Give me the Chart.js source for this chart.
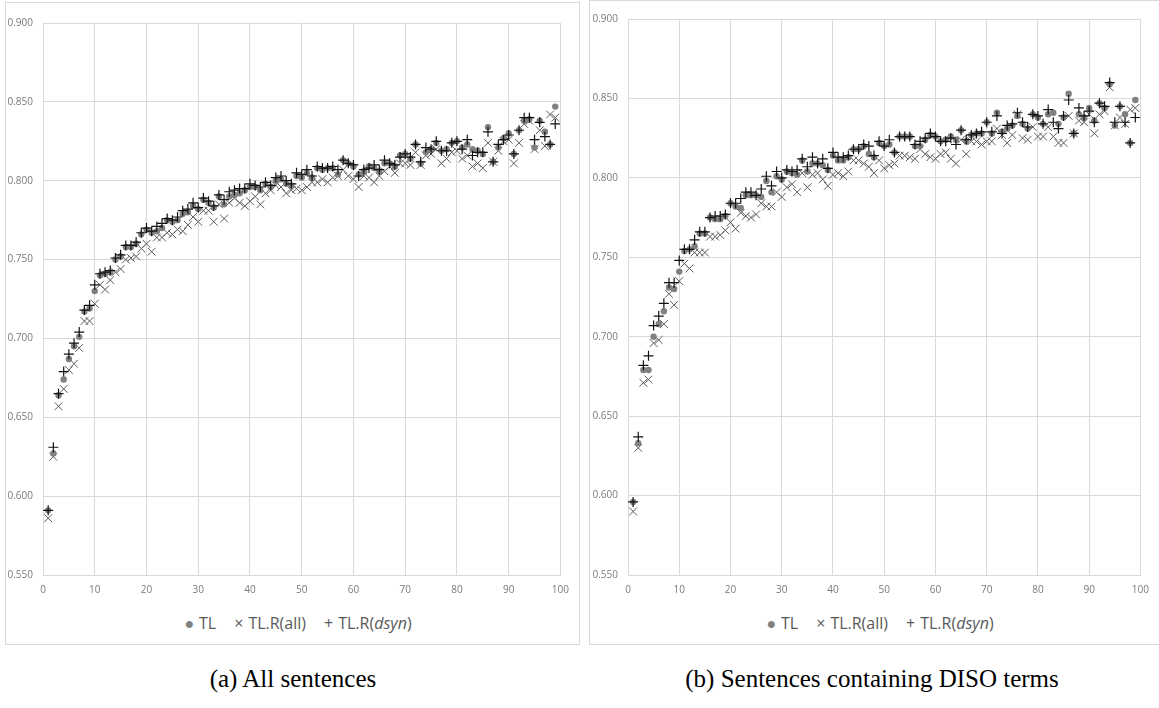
<!DOCTYPE html>
<html>
<head>
<meta charset="utf-8">
<script src="https://cdn.jsdelivr.net/npm/chart.js@4.4.1/dist/chart.umd.min.js"></script>
<style>
  body { margin: 0; background: #fff; width: 1159px; height: 708px; position: relative; overflow: hidden; }
  .frame { position: absolute; border: 1px solid #d9d9d9; box-sizing: border-box; }
  .cv { position: absolute; }
  .legend { position: absolute; font-family: "Open Sans", sans-serif; font-size: 16px; color: #595959;
            display: flex; justify-content: center; align-items: center; white-space: nowrap; }
  .legend span.item { margin: 0 9px; }
  .legend .mk { color: #595959; margin-right: 5px; }
  .caption { position: absolute; font-family: "Liberation Serif", serif; font-size: 25px; color: #000;
             text-align: center; white-space: nowrap; }
</style>
</head>
<body>

<div class="frame" style="left:5px; top:2px; width:575px; height:643px;"></div>
<div class="cv" style="left:6px; top:3px; width:572px; height:600px;"><canvas id="chartA"></canvas></div>
<div class="legend" style="left:6px; top:610px; width:584px; height:26px;">
  <span class="item"><span class="mk" style="color:#808080">&#9679;</span>TL</span>
  <span class="item"><span class="mk">&times;</span>TL.R(all)</span>
  <span class="item"><span class="mk">+</span>TL.R(<i>dsyn</i>)</span>
</div>

<div class="frame" style="left:589px; top:0px; width:572px; height:645px;"></div>
<div class="cv" style="left:590px; top:1px; width:568px; height:602px;"><canvas id="chartB"></canvas></div>
<div class="legend" style="left:590px; top:610px; width:580px; height:26px;">
  <span class="item"><span class="mk" style="color:#808080">&#9679;</span>TL</span>
  <span class="item"><span class="mk">&times;</span>TL.R(all)</span>
  <span class="item"><span class="mk">+</span>TL.R(<i>dsyn</i>)</span>
</div>

<div class="caption" style="left:93px; top:665px; width:400px;">(a) All sentences</div>
<div class="caption" style="left:672px; top:665px; width:400px;">(b) Sentences containing DISO terms</div>

<script>
// Series names
const seriesNames = ['TL', 'TL.R(all)', 'TL.R(dsyn)'];
// y ticks
const yTickLabels = ['0.550', '0.600', '0.650', '0.700', '0.750', '0.800', '0.850', '0.900'];
const xTickLabels = [0, 10, 20, 30, 40, 50, 60, 70, 80, 90, 100];

// (a) All sentences, values for ranks 1..99
const aTL = [0.591,0.627,0.664,0.674,0.687,0.695,0.701,0.717,0.719,0.730,
  0.740,0.741,0.742,0.750,0.752,0.758,0.758,0.760,0.766,0.769,
  0.767,0.768,0.770,0.775,0.774,0.775,0.779,0.780,0.784,0.782,
  0.788,0.786,0.783,0.790,0.785,0.790,0.791,0.792,0.794,0.796,
  0.796,0.794,0.798,0.796,0.800,0.801,0.798,0.797,0.803,0.802,
  0.805,0.802,0.808,0.807,0.808,0.808,0.804,0.813,0.811,0.809,
  0.804,0.806,0.809,0.808,0.806,0.811,0.811,0.809,0.816,0.817,
  0.814,0.823,0.811,0.818,0.820,0.824,0.819,0.820,0.824,0.825,
  0.821,0.823,0.820,0.819,0.817,0.834,0.812,0.821,0.827,0.830,
  0.817,0.832,0.838,0.839,0.821,0.838,0.831,0.823,0.847];
const aAll = [0.586,0.625,0.657,0.668,0.680,0.684,0.694,0.711,0.711,0.722,
  0.734,0.731,0.737,0.742,0.744,0.750,0.751,0.752,0.757,0.760,
  0.755,0.764,0.764,0.767,0.766,0.769,0.768,0.772,0.777,0.774,
  0.781,0.781,0.774,0.785,0.776,0.786,0.789,0.786,0.784,0.787,
  0.790,0.785,0.792,0.794,0.797,0.796,0.792,0.794,0.795,0.794,
  0.796,0.799,0.799,0.801,0.799,0.802,0.803,0.807,0.803,0.801,
  0.796,0.803,0.802,0.799,0.803,0.806,0.809,0.805,0.811,0.811,
  0.810,0.818,0.810,0.816,0.817,0.820,0.811,0.814,0.818,0.819,
  0.814,0.816,0.809,0.811,0.808,0.824,0.812,0.819,0.825,0.826,
  0.811,0.824,0.836,0.838,0.820,0.832,0.822,0.842,0.840];
const aDsyn = [0.591,0.631,0.665,0.679,0.690,0.697,0.704,0.718,0.721,0.734,
  0.741,0.742,0.743,0.751,0.753,0.759,0.759,0.761,0.767,0.770,
  0.768,0.771,0.773,0.776,0.775,0.777,0.781,0.782,0.786,0.783,
  0.789,0.787,0.784,0.791,0.788,0.793,0.794,0.795,0.795,0.798,
  0.797,0.796,0.799,0.797,0.802,0.803,0.800,0.798,0.805,0.804,
  0.807,0.803,0.809,0.808,0.808,0.809,0.807,0.813,0.811,0.810,
  0.803,0.807,0.808,0.810,0.807,0.813,0.811,0.810,0.815,0.817,
  0.815,0.823,0.812,0.821,0.820,0.825,0.819,0.819,0.824,0.825,
  0.820,0.826,0.816,0.818,0.818,0.831,0.812,0.823,0.826,0.829,
  0.817,0.832,0.840,0.840,0.826,0.837,0.828,0.823,0.836];

// (b) Sentences containing DISO terms
const bTL = [0.596,0.633,0.679,0.679,0.700,0.708,0.716,0.731,0.730,0.741,
  0.754,0.755,0.757,0.765,0.765,0.775,0.774,0.774,0.776,0.784,
  0.782,0.781,0.789,0.789,0.789,0.788,0.798,0.791,0.801,0.799,
  0.804,0.803,0.802,0.811,0.804,0.809,0.809,0.808,0.805,0.814,
  0.811,0.811,0.813,0.818,0.818,0.820,0.815,0.813,0.822,0.820,
  0.821,0.816,0.826,0.826,0.826,0.820,0.820,0.824,0.827,0.826,
  0.823,0.824,0.826,0.824,0.830,0.823,0.827,0.828,0.828,0.835,
  0.828,0.841,0.829,0.831,0.833,0.839,0.834,0.831,0.840,0.838,
  0.834,0.840,0.841,0.834,0.838,0.853,0.828,0.840,0.838,0.844,
  0.836,0.847,0.844,0.859,0.833,0.845,0.840,0.822,0.849];
const bAll = [0.590,0.630,0.671,0.673,0.696,0.698,0.708,0.727,0.720,0.735,
  0.746,0.743,0.753,0.753,0.753,0.763,0.763,0.764,0.767,0.772,
  0.768,0.778,0.776,0.775,0.777,0.784,0.782,0.782,0.791,0.788,
  0.794,0.796,0.791,0.803,0.794,0.802,0.803,0.799,0.795,0.802,
  0.803,0.801,0.804,0.811,0.811,0.809,0.807,0.803,0.811,0.806,
  0.808,0.809,0.814,0.814,0.813,0.812,0.818,0.815,0.813,0.812,
  0.815,0.816,0.812,0.809,0.824,0.815,0.823,0.823,0.821,0.823,
  0.823,0.831,0.827,0.822,0.827,0.840,0.825,0.824,0.832,0.826,
  0.826,0.832,0.826,0.822,0.822,0.839,0.828,0.836,0.835,0.840,
  0.828,0.840,0.842,0.857,0.833,0.838,0.834,0.843,0.844];
const bDsyn = [0.596,0.637,0.682,0.688,0.707,0.713,0.721,0.734,0.734,0.748,
  0.755,0.755,0.761,0.766,0.766,0.775,0.776,0.776,0.777,0.784,
  0.784,0.787,0.791,0.791,0.789,0.793,0.801,0.795,0.804,0.800,
  0.805,0.804,0.805,0.812,0.807,0.813,0.809,0.812,0.806,0.816,
  0.813,0.813,0.814,0.818,0.818,0.821,0.820,0.814,0.823,0.820,
  0.824,0.816,0.826,0.826,0.826,0.821,0.823,0.825,0.828,0.826,
  0.823,0.823,0.825,0.821,0.830,0.824,0.827,0.828,0.829,0.835,
  0.829,0.839,0.828,0.833,0.834,0.841,0.835,0.832,0.840,0.839,
  0.834,0.843,0.835,0.831,0.839,0.849,0.828,0.844,0.839,0.842,
  0.835,0.847,0.845,0.860,0.835,0.845,0.835,0.822,0.838];

// rank i+1 on the x axis
function toPoints(values) {
    return values.map((v, i) => ({ x: i + 1, y: v }));
}

const tickFont = { family: 'Open Sans', size: 10 };

function makeChart(id, tl, all, dsyn, yWidth, topPad, rightPad) {
    const ctx = document.getElementById(id).getContext('2d');
    return new Chart(ctx, {
        type: 'scatter',
        data: {
            datasets: [
                { label: seriesNames[0], data: toPoints(tl), pointStyle: 'circle', pointRadius: 3.2,
                  backgroundColor: '#808080', borderColor: '#808080', borderWidth: 0, order: 2 },
                { label: seriesNames[1], data: toPoints(all), pointStyle: 'crossRot', pointRadius: 5.5,
                  backgroundColor: '#595959', borderColor: '#5a5a5a', borderWidth: 1, order: 3 },
                { label: seriesNames[2], data: toPoints(dsyn), pointStyle: 'cross', pointRadius: 5,
                  backgroundColor: '#111', borderColor: '#111', borderWidth: 1.2, order: 1 }
            ]
        },
        options: {
            responsive: false,
            animation: false,
            devicePixelRatio: 1,
            layout: { padding: { top: topPad, right: rightPad, left: 0, bottom: 0 } },
            plugins: {
                legend: { display: false },
                tooltip: { enabled: false }
            },
            scales: {
                x: {
                    type: 'linear', min: 0, max: 100,
                    afterBuildTicks: s => { s.ticks = xTickLabels.map(v => ({ value: v })); },
                    afterFit: s => { s.height = 28; },
                    grid: { color: '#d9d9d9', drawTicks: false },
                    border: { color: '#d9d9d9' },
                    ticks: { color: '#7a7a7a', font: tickFont, padding: 9 }
                },
                y: {
                    type: 'linear', min: 0.55, max: 0.9,
                    afterBuildTicks: s => { s.ticks = yTickLabels.map(t => ({ value: parseFloat(t) })); },
                    afterFit: s => { s.width = yWidth; },
                    grid: { color: '#d9d9d9', drawTicks: false },
                    border: { color: '#d9d9d9' },
                    ticks: { color: '#7a7a7a', font: tickFont, padding: 10,
                             callback: v => Number(v).toFixed(3) }
                }
            }
        }
    });
}

document.getElementById('chartA').width = 572;
document.getElementById('chartA').height = 600;
document.getElementById('chartB').width = 568;
document.getElementById('chartB').height = 602;

makeChart('chartA', aTL, aAll, aDsyn, 37, 20, 14);
makeChart('chartB', bTL, bAll, bDsyn, 38, 18, 10);
</script>
</body>
</html>
